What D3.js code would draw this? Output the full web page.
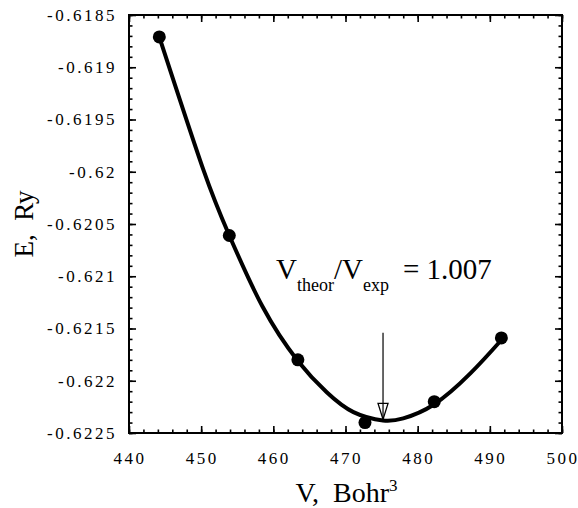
<!DOCTYPE html>
<html><head><meta charset="utf-8">
<script src="https://cdn.jsdelivr.net/npm/d3@7"></script>
<style>
body{margin:0;background:#fff}
svg{display:block}
svg text{font-family:"Liberation Serif","DejaVu Serif",serif}
</style>
</head><body>
<script>
// Computed total energies vs. cell volume
const volumes  = [444.2, 453.9, 463.4, 472.7, 482.3, 491.6];
const energies = [-0.61871, -0.62061, -0.62180, -0.62240, -0.62220, -0.62159];

// Fitted equation-of-state curve
const fitVolumes  = [444.2, 450.3, 453.9, 458.5, 463.4, 467.4, 471.1, 475.2, 478.0, 482.2, 487.3, 491.6];
const fitEnergies = [-0.61871, -0.61998, -0.62061, -0.62129, -0.62181, -0.62211, -0.62230, -0.62238, -0.62236, -0.62223, -0.62193, -0.62161];

const xTickValues = [440, 450, 460, 470, 480, 490, 500];
const xTickLabels = ["440", "450", "460", "470", "480", "490", "500"];
const yTickValues = [-0.6185, -0.619, -0.6195, -0.62, -0.6205, -0.621, -0.6215, -0.622, -0.6225];
const yTickLabels = ["-0.6185", "-0.619", "-0.6195", "-0.62", "-0.6205", "-0.621", "-0.6215", "-0.622", "-0.6225"];

const equilibriumVolume = 475.2;
const arrowStartEnergy = -0.62154;
const arrowTipEnergy = -0.62237;
const ratioValue = "1.007";

const W = 578, H = 508;
const margin = {top: 15, right: 16, bottom: 75, left: 129};

const svg = d3.select("body").append("svg").attr("width", W).attr("height", H);

const x = d3.scaleLinear().domain([440, 500]).range([margin.left, W - margin.right]);
const y = d3.scaleLinear().domain([-0.6225, -0.6185]).range([H - margin.bottom, margin.top]);

const x0 = x.range()[0], x1 = x.range()[1], y0 = y.range()[0], y1 = y.range()[1];

// minor + major inward ticks on all four sides
const xMinor = d3.range(440, 500.001, 2);
const yMinor = d3.range(0, 41).map(i => -0.6225 + i * 0.0001);

function tickAxis(axisFn, scale, values, size, transform) {
  const g = svg.append("g").attr("transform", transform)
    .call(axisFn(scale).tickValues(values).tickSize(size).tickFormat(""));
  g.select(".domain").remove();
  g.selectAll(".tick line").attr("stroke", "#000").attr("stroke-width", 1.6);
  return g;
}
tickAxis(d3.axisBottom, x, xMinor, -3.5, `translate(0,${y0})`);
tickAxis(d3.axisBottom, x, xTickValues, -7, `translate(0,${y0})`);
tickAxis(d3.axisTop, x, xMinor, -3.5, `translate(0,${y1})`);
tickAxis(d3.axisTop, x, xTickValues, -7, `translate(0,${y1})`);
tickAxis(d3.axisLeft, y, yMinor, -3.5, `translate(${x0},0)`);
tickAxis(d3.axisLeft, y, yTickValues, -7, `translate(${x0},0)`);
tickAxis(d3.axisRight, y, yMinor, -3.5, `translate(${x1},0)`);
tickAxis(d3.axisRight, y, yTickValues, -7, `translate(${x1},0)`);

// frame
svg.append("rect").attr("x", x0).attr("y", y1).attr("width", x1 - x0).attr("height", y0 - y1)
  .attr("fill", "none").attr("stroke", "#000").attr("stroke-width", 2);

// tick labels
svg.append("g").selectAll("text").data(xTickValues).join("text")
  .attr("x", d => x(d) + 1).attr("y", y0 + 31)
  .attr("text-anchor", "middle")
  .attr("font-size", 17).attr("letter-spacing", 2.5)
  .text((d, i) => xTickLabels[i]);

svg.append("g").selectAll("text").data(yTickValues).join("text")
  .attr("x", x0 - 12).attr("y", d => y(d)).attr("dy", "0.35em")
  .attr("text-anchor", "end")
  .attr("font-size", 17).attr("letter-spacing", 2.5)
  .text((d, i) => yTickLabels[i]);

// axis titles
const xt = svg.append("text").attr("x", (x0 + x1) / 2 + 1).attr("y", 502)
  .attr("text-anchor", "middle").attr("font-size", 28)
  .attr("xml:space", "preserve");
xt.append("tspan").text("V,  Bohr");
xt.append("tspan").attr("font-size", 17).attr("dy", -11).text("3");

svg.append("text")
  .attr("transform", `translate(33,${(y0 + y1) / 2}) rotate(-90)`)
  .attr("text-anchor", "middle").attr("font-size", 27)
  .attr("xml:space", "preserve")
  .text("E,  Ry");

// fitted curve
const pts = fitVolumes.map((v, i) => [v, fitEnergies[i]]);
svg.append("path").datum(pts)
  .attr("fill", "none").attr("stroke", "#000").attr("stroke-width", 4)
  .attr("stroke-linejoin", "round").attr("stroke-linecap", "round")
  .attr("d", d3.line().x(d => x(d[0])).y(d => y(d[1])).curve(d3.curveNatural));

// data points
svg.append("g").selectAll("circle").data(volumes).join("circle")
  .attr("cx", d => x(d)).attr("cy", (d, i) => y(energies[i])).attr("r", 6.5)
  .attr("fill", "#000");

// arrow marking the equilibrium volume
const ax = x(equilibriumVolume), ayTop = y(arrowStartEnergy), ayTip = y(arrowTipEnergy);
svg.append("line").attr("x1", ax).attr("x2", ax).attr("y1", ayTop).attr("y2", ayTip)
  .attr("stroke", "#000").attr("stroke-width", 1.2);
svg.append("path")
  .attr("d", `M${ax - 5},${ayTip - 16} L${ax + 5},${ayTip - 16} L${ax},${ayTip} Z`)
  .attr("fill", "none").attr("stroke", "#000").attr("stroke-width", 1.3);

// ratio annotation
const note = svg.append("text").attr("x", 276).attr("y", 279).attr("font-size", 29);
note.append("tspan").text("V");
note.append("tspan").attr("font-size", 18).attr("dy", 12).text("theor");
note.append("tspan").attr("dy", -12).text("/V");
note.append("tspan").attr("font-size", 18).attr("dy", 12).text("exp");
note.append("tspan").attr("dy", -12).attr("dx", 14).text("= " + ratioValue);
</script>
</body></html>
